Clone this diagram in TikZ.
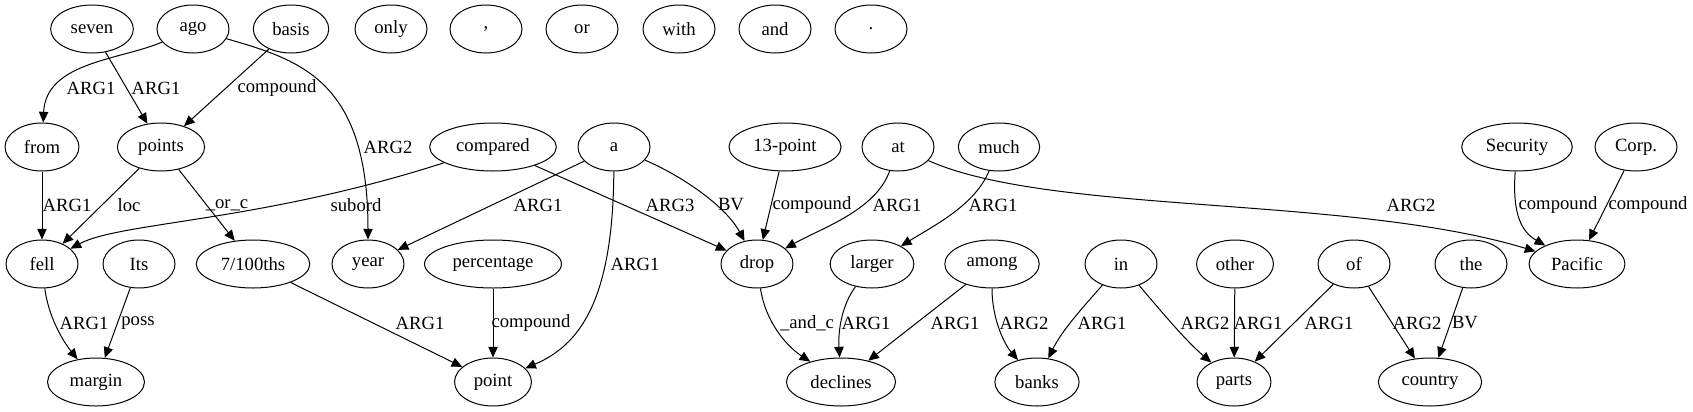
\documentclass[tikz,border=0pt]{standalone}
\usepackage{fontspec}
\setmainfont{Liberation Serif}
\usetikzlibrary{arrows.meta,shapes.geometric}
\tikzset{%
  >={Triangle[length=8pt,width=7pt]}, % default arrow style
  word/.style={draw, ellipse, line width=0.75pt, minimum width=54pt,
    minimum height=36pt, inner xsep=6pt, inner ysep=2pt,
    font=\fontsize{14}{16}\selectfont},%
  lab/.style={inner sep=0pt, font=\fontsize{14}{16}\selectfont},%
  edge/.style={->, line width=0.75pt}%
}

\begin{document}
\begin{tikzpicture}[x=0.75pt,y=-0.75pt]
  \useasboundingbox (0,0) rectangle (1693,411);
  % first row
  \node[word] (seven) at (92,29) {seven};
  \node[word] (ago) at (193,29) {ago};
  \node[word] (basis) at (291,29) {basis};
  \node[word] (only) at (391,29) {only};
  \node[word] (comma) at (486,29) {,};
  \node[word] (or) at (582,29) {or};
  \node[word] (with) at (679,29) {with};
  \node[word] (and) at (775,29) {and};
  \node[word] (period) at (871,29) {.};
  % second row
  \node[word] (from) at (42,147) {from};
  \node[word] (points) at (161,147) {points};
  \node[word] (compared) at (493,147) {compared};
  \node[word] (a) at (614,147) {a};
  \node[word] (thirteen) at (785,147) {13-point};
  \node[word] (at) at (898,147) {at};
  \node[word] (much) at (999,147) {much};
  \node[word] (security) at (1517,147) {Security};
  \node[word] (corp) at (1636,147) {Corp.};
  % third row
  \node[word] (fell) at (42,264) {fell};
  \node[word] (its) at (139,264) {Its};
  \node[word] (hundredths) at (253,264) {7/100ths};
  \node[word] (year) at (368,264) {year};
  \node[word] (percentage) at (493,264) {percentage};
  \node[word] (drop) at (757,264) {drop};
  \node[word] (larger) at (872,264) {larger};
  \node[word] (among) at (992,264) {among};
  \node[word] (in) at (1121,264) {in};
  \node[word] (other) at (1235,264) {other};
  \node[word] (of) at (1354,264) {of};
  \node[word] (the) at (1471,264) {the};
  \node[word] (pacific) at (1577,264) {Pacific};
  % fourth row
  \node[word] (margin) at (96,382) {margin};
  \node[word] (point) at (493,382) {point};
  \node[word] (declines) at (841,382) {declines};
  \node[word] (banks) at (1037,382) {banks};
  \node[word] (parts) at (1234,382) {parts};
  \node[word] (country) at (1430,382) {country};
  % edges, first to second row
  \draw[edge] (ago) .. controls (120,60) and (46,62) .. (from) node[lab] at (91,88) {ARG1};
  \draw[edge] (seven) -- (points) node[lab] at (156,88) {ARG1};
  \draw[edge] (basis) -- (points) node[lab] at (277,88) {compound};
  \draw[edge] (ago) .. controls (300,60) and (368,80) .. (year) node[lab] at (388,147) {ARG2};
  % edges, second to third row
  \draw[edge] (from) -- (fell) node[lab] at (67,205) {ARG1};
  \draw[edge] (points) -- (fell) node[lab] at (129,205) {loc};
  \draw[edge] (points) -- (hundredths) node[lab] at (227,205) {\_or\_c};
  \draw[edge] (compared) .. controls (260,222) and (120,222) .. (fell) node[lab] at (356,205) {subord};
  \draw[edge] (compared) -- (drop) node[lab] at (670,205) {ARG3};
  \draw[edge] (a) -- (year) node[lab] at (538,205) {ARG1};
  \draw[edge] (a) .. controls (613,300) and (580,345) .. (point) node[lab] at (635,264) {ARG1};
  \draw[edge] (a) .. controls (680,175) and (725,205) .. (drop) node[lab] at (731,205) {BV};
  \draw[edge] (thirteen) -- (drop) node[lab] at (812,205) {compound};
  \draw[edge] (at) .. controls (876,210) and (822,228) .. (drop) node[lab] at (897,205) {ARG1};
  \draw[edge] (much) .. controls (975,205) and (935,225) .. (larger) node[lab] at (993,205) {ARG1};
  \draw[edge] (at) .. controls (1050,215) and (1350,195) .. (pacific) node[lab] at (1411,205) {ARG2};
  \draw[edge] (security) .. controls (1512,215) and (1522,232) .. (pacific) node[lab] at (1558,205) {compound};
  \draw[edge] (corp) -- (pacific) node[lab] at (1648,205) {compound};
  % edges, third to fourth row
  \draw[edge] (fell) .. controls (48,315) and (62,340) .. (margin) node[lab] at (84,323) {ARG1};
  \draw[edge] (its) -- (margin) node[lab] at (138,323) {poss};
  \draw[edge] (hundredths) -- (point) node[lab] at (420,323) {ARG1};
  \draw[edge] (percentage) -- (point) node[lab] at (531,323) {compound};
  \draw[edge] (drop) .. controls (765,320) and (785,345) .. (declines) node[lab] at (807,323) {\_and\_c};
  \draw[edge] (larger) .. controls (842,305) and (838,330) .. (declines) node[lab] at (866,323) {ARG1};
  \draw[edge] (among) -- (declines) node[lab] at (955,323) {ARG1};
  \draw[edge] (among) .. controls (992,320) and (1005,345) .. (banks) node[lab] at (1024,323) {ARG2};
  \draw[edge] (in) .. controls (1085,305) and (1062,330) .. (banks) node[lab] at (1102,323) {ARG1};
  \draw[edge] (in) .. controls (1160,310) and (1185,340) .. (parts) node[lab] at (1205,323) {ARG2};
  \draw[edge] (other) -- (parts) node[lab] at (1258,323) {ARG1};
  \draw[edge] (of) -- (parts) node[lab] at (1329,323) {ARG1};
  \draw[edge] (of) -- (country) node[lab] at (1417,323) {ARG2};
  \draw[edge] (the) -- (country) node[lab] at (1465,323) {BV};
\end{tikzpicture}
\end{document}
